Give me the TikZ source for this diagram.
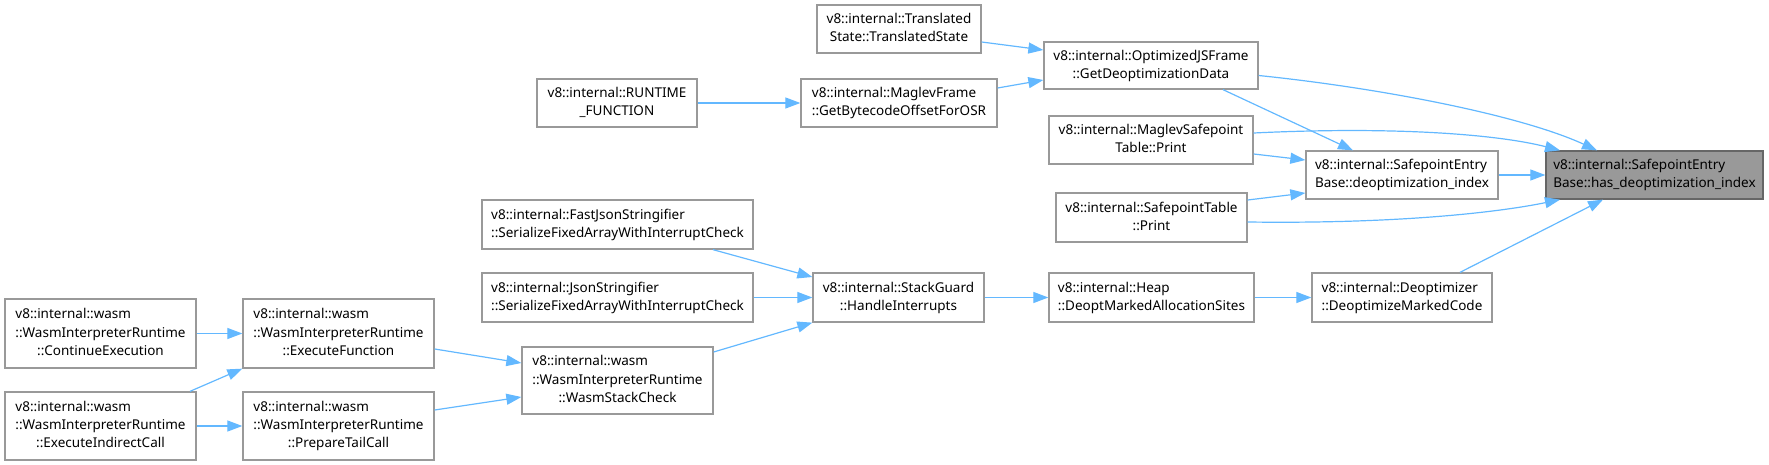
\documentclass[tikz,border=0pt]{standalone}
\usepackage{fontspec}
\setmainfont{Noto Sans}
\usetikzlibrary{arrows.meta}
\definecolor{edgeblue}{HTML}{63B8FF}
\definecolor{boxline}{HTML}{999999}
\definecolor{focusline}{HTML}{666666}
\tikzstyle{func}=[draw=boxline, fill=white, line width=1.3pt, inner sep=0pt, font=\fontsize{13.5}{18.3}\selectfont]
\tikzstyle{focus}=[func, draw=focusline, fill=boxline]
\tikzstyle{call}=[draw=edgeblue, line width=1.2pt, -{Triangle[length=15pt,width=11pt]}]
\newcommand{\lbl}[2]{\begin{tabular}{@{}l@{}}#1\\\hspace*{\fill}#2\hspace*{\fill}\end{tabular}}

\begin{document}
\begin{tikzpicture}[x=1pt, y=-1pt]
	\useasboundingbox (0,0) rectangle (1769,465);
	\node[focus, minimum width=217pt, minimum height=48pt] (has) at (1654.5,175) {\lbl{v8::internal::SafepointEntry}{Base::has\_deoptimization\_index}};
	\node[func, minimum width=192pt, minimum height=48pt] (dei) at (1402,175) {\lbl{v8::internal::SafepointEntry}{Base::deoptimization\_index}};
	\node[func, minimum width=214pt, minimum height=47pt] (opt) at (1151,65.5) {\lbl{v8::internal::OptimizedJSFrame}{::GetDeoptimizationData}};
	\node[func, minimum width=204pt, minimum height=48pt] (msp) at (1151,140) {\lbl{v8::internal::MaglevSafepoint}{Table::Print}};
	\node[func, minimum width=191pt, minimum height=49pt] (spt) at (1151.5,217.5) {\lbl{v8::internal::SafepointTable}{::Print}};
	\node[func, minimum width=180pt, minimum height=49pt] (deopt) at (1402,297.5) {\lbl{v8::internal::Deoptimizer}{::DeoptimizeMarkedCode}};
	\node[func, minimum width=164pt, minimum height=48pt] (trans) at (899,29) {\lbl{v8::internal::Translated}{State::TranslatedState}};
	\node[func, minimum width=196pt, minimum height=48pt] (mframe) at (899,103) {\lbl{v8::internal::MaglevFrame}{::GetBytecodeOffsetForOSR}};
	\node[func, minimum width=160pt, minimum height=48pt] (runtime) at (617,103) {\lbl{v8::internal::RUNTIME}{\_FUNCTION}};
	\node[func, minimum width=205pt, minimum height=49pt] (heap) at (1151.5,297.5) {\lbl{v8::internal::Heap}{::DeoptMarkedAllocationSites}};
	\node[func, minimum width=171pt, minimum height=49pt] (sg) at (898.5,297.5) {\lbl{v8::internal::StackGuard}{::HandleInterrupts}};
	\node[func, minimum width=271pt, minimum height=49pt] (fjs) at (617.5,224.5) {\lbl{v8::internal::FastJsonStringifier}{::SerializeFixedArrayWithInterruptCheck}};
	\node[func, minimum width=271pt, minimum height=49pt] (js) at (617.5,297.5) {\lbl{v8::internal::JsonStringifier}{::SerializeFixedArrayWithInterruptCheck}};
	\node[func, minimum width=191pt, minimum height=67pt] (wsc) at (617.5,380.5) {\lbl{v8::internal::wasm\\::WasmInterpreterRuntime}{::WasmStackCheck}};
	\node[func, minimum width=191pt, minimum height=69pt] (ef) at (338.5,333.5) {\lbl{v8::internal::wasm\\::WasmInterpreterRuntime}{::ExecuteFunction}};
	\node[func, minimum width=191pt, minimum height=68pt] (ptc) at (338.5,426) {\lbl{v8::internal::wasm\\::WasmInterpreterRuntime}{::PrepareTailCall}};
	\node[func, minimum width=191pt, minimum height=69pt] (ce) at (100.5,333.5) {\lbl{v8::internal::wasm\\::WasmInterpreterRuntime}{::ContinueExecution}};
	\node[func, minimum width=191pt, minimum height=68pt] (eic) at (100.5,426) {\lbl{v8::internal::wasm\\::WasmInterpreterRuntime}{::ExecuteIndirectCall}};

	\draw[call] (dei) -- (has);
	\draw[call] ([yshift=-10pt]opt.east) .. controls (1380,88) and (1520,115) .. ([xshift=-57.5pt]has.north);
	\draw[call] ([xshift=72pt]opt.south) -- ([xshift=-49pt]dei.north);
	\draw[call] ([yshift=7pt]msp.east) .. controls (1400,126) and (1500,135) .. ([xshift=-94.5pt]has.north);
	\draw[call] ([yshift=-14pt]msp.east) -- ([yshift=15pt]dei.west);
	\draw[call] ([yshift=17.5pt]spt.east) -- ([yshift=-18pt]dei.west);
	\draw[call] ([yshift=-4.5pt]spt.east) .. controls (1400,224) and (1500,212) .. ([xshift=-94.5pt]has.south);
	\draw[call] ([xshift=58pt]deopt.north) -- ([xshift=-51.5pt]has.south);
	\draw[call] ([yshift=-13pt]trans.east) -- ([yshift=15.5pt]opt.west);
	\draw[call] ([yshift=15pt]mframe.east) -- ([yshift=-14.5pt]opt.west);
	\draw[call] (runtime) -- (mframe);
	\draw[call] (heap) -- (deopt);
	\draw[call] (sg) -- (heap);
	\draw[call] ([xshift=95.5pt]fjs.south) -- ([yshift=20.5pt]sg.west);
	\draw[call] (js) -- (sg);
	\draw[call] ([yshift=28.5pt]wsc.east) -- (sg.south west);
	\draw[call] ([yshift=-15.5pt]ef.east) -- ([yshift=17.5pt]wsc.west);
	\draw[call] ([yshift=16pt]ptc.east) -- ([yshift=-16.5pt]wsc.west);
	\draw[call] (ce) -- (ef);
	\draw[call] ([xshift=89.5pt]eic.north) -- (ef.south west);
	\draw[call] (eic) -- (ptc);
\end{tikzpicture}
\end{document}
